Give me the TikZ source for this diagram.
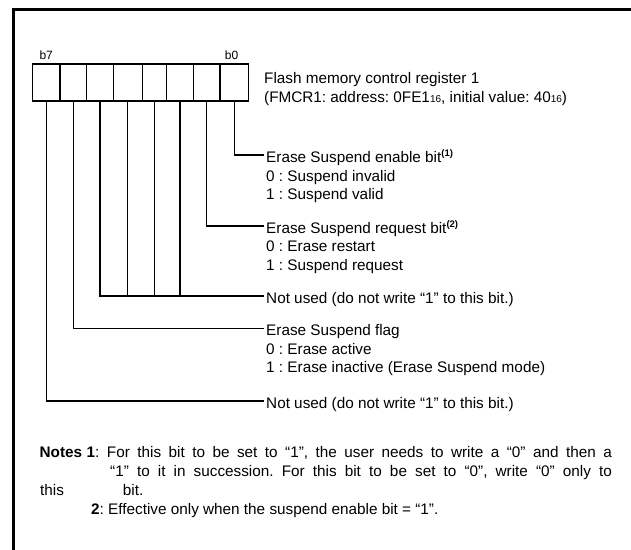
\documentclass[tikz,border=0pt]{standalone}
\usepackage{fontspec}
\setmainfont{Liberation Sans}
\frenchspacing
\newcommand{\supnote}[1]{\raisebox{5.5pt}{\fontsize{9.5}{9.5}\selectfont\bfseries(#1)}}
\newcommand{\subsx}{\raisebox{-0.5pt}{\fontsize{10}{10}\selectfont 16}}
\begin{document}
\begin{tikzpicture}[x=1pt,y=-1pt,
  txt/.style={anchor=base west, inner sep=0pt, font=\fontsize{15.3}{18}\selectfont},
  bitlbl/.style={anchor=base, inner sep=0pt, font=\fontsize{12}{12}\selectfont},
  cell/.style={draw, line width=1.3pt, minimum height=37pt, inner sep=0pt},
  conn/.style={line width=1.3pt},
  frame/.style={line width=3pt}]
\useasboundingbox (0,0) rectangle (631,549);
% frame
\draw[frame] (13.3,552) -- (13.3,9) -- (634,9);
% register cells
\foreach \n/\l/\r in {7/32.7/60, 6/60/86.7, 5/86.7/113.3, 4/113.3/142.3, 3/142.3/166.7, 2/166.7/193.3, 1/193.3/220, 0/220/248.7}{
  \pgfmathsetmacro\w{\r-\l}
  \pgfmathsetmacro\cx{(\l+\r)/2}
  \node[cell, minimum width=\w pt] (c\n) at (\cx,82.5) {};
}
\node[bitlbl] (lb7) at (46.2,59.5) {b7};
\node[bitlbl] (lb0) at (231.5,59.5) {b0};
% title
\node[txt] (title1) at (264,83.5) {Flash memory control register 1};
\node[txt] (title2) at (264,102) {(FMCR1: address: 0FE1\subsx, initial value: 40\subsx)};
% line end coordinates
\coordinate (e0) at (264,155);
\coordinate (e1) at (264,226);
\coordinate (e25) at (264,296);
\coordinate (e6) at (264,328.5);
\coordinate (e7) at (264,401);
% connectors
\draw[conn] (c0.south) |- (e0);
\draw[conn] (c1.south) |- (e1);
\draw[conn] (c5.south) |- (e25);
\draw[conn] (c4.south) -- (c4.south |- e25);
\draw[conn] (c3.south) -- (c3.south |- e25);
\draw[conn] (c2.south) -- (c2.south |- e25);
\draw[conn] (c6.south) |- (e6);
\draw[conn] (c7.south) |- (e7);
% bit descriptions
\node[txt] (t0) at (266,162) {Erase Suspend enable bit\supnote{1}};
\node[txt] (t0a) at (266,181) {0 : Suspend invalid};
\node[txt] (t0b) at (266,199.5) {1 : Suspend valid};
\node[txt] (t1) at (266,233) {Erase Suspend request bit\supnote{2}};
\node[txt] (t1a) at (266,251.5) {0 : Erase restart};
\node[txt] (t1b) at (266,270) {1 : Suspend request};
\node[txt] (t25) at (266,303) {Not used (do not write “1” to this bit.)};
\node[txt] (t6) at (266,335.5) {Erase Suspend flag};
\node[txt] (t6a) at (266,354) {0 : Erase active};
\node[txt] (t6b) at (266,372.5) {1 : Erase inactive (Erase Suspend mode)};
\node[txt] (t7) at (266,408) {Not used (do not write “1” to this bit.)};
% notes
\node[txt, font=\fontsize{15.3}{18}\selectfont\bfseries] (notes) at (39.5,457) {Notes};
\node[txt] (n1) at (86.5,457) {\makebox[525.2pt][s]{\textbf{1}: For this bit to be set to “1”, the user needs to write a “0” and then a}};
\node[txt] (n1b) at (110,476) {\makebox[501.7pt][s]{“1” to it in succession. For this bit to be set to “0”, write “0” only to}};
\node[txt] (n1c) at (40,495.5) {this};
\node[txt] (n1d) at (122.7,495.5) {bit.};
\node[txt] (n2) at (91,514.5) {\textbf{2}: Effective only when the suspend enable bit = “1”.};
\end{tikzpicture}
\end{document}
